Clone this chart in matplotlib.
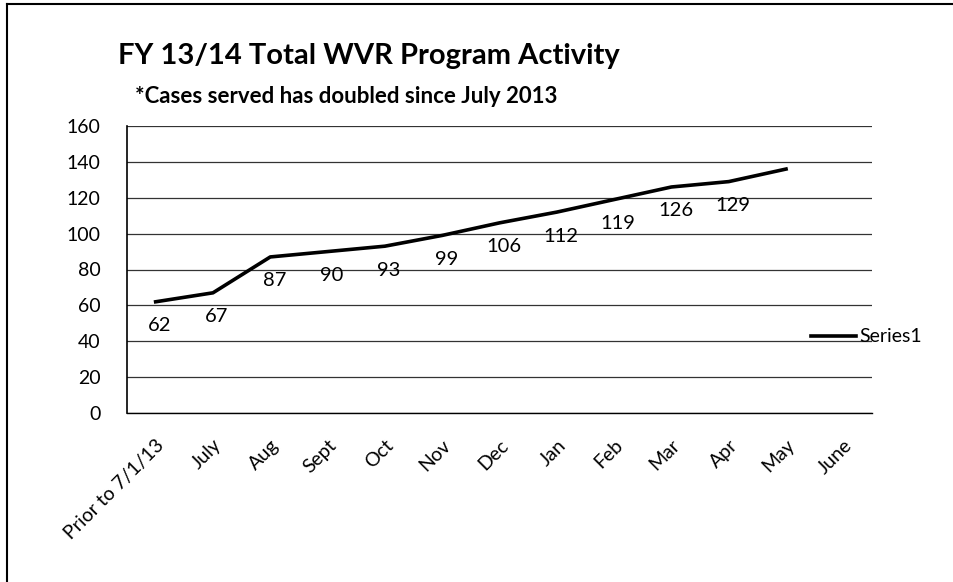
import matplotlib.pyplot as plt
from matplotlib.lines import Line2D

# Data
months = ['Prior to 7/1/13', 'July', 'Aug', 'Sept', 'Oct', 'Nov', 'Dec',
          'Jan', 'Feb', 'Mar', 'Apr', 'May', 'June']
cases = [62, 67, 87, 90, 93, 99, 106, 112, 119, 126, 129, 136]
point_labels = ['62', '67', '87', '90', '93', '99', '106', '112', '119', '126', '129', '']
y_ticks = [0, 20, 40, 60, 80, 100, 120, 140, 160]

plt.rcParams['font.family'] = ['Lato', 'DejaVu Sans']

fig = plt.figure(figsize=(9.54, 5.82), dpi=100)
ax = fig.add_axes([127 / 954, 1 - 413 / 582, 745 / 954, 287 / 582])

x = list(range(len(cases)))
line, = ax.plot(x, cases, color='black', linewidth=2.6, label='Series1')

for xi, yi, lab in zip(x, cases, point_labels):
    if lab:
        ax.annotate(lab, (xi, yi), textcoords='offset pixels', xytext=(4, -24),
                    ha='center', va='center', fontsize=14.5, color='black')

ax.set_xlim(-0.5, len(months) - 0.5)
ax.set_ylim(0, 160)
ax.set_yticks(y_ticks)
ax.set_xticks(range(len(months)))
ax.set_xticklabels(months, rotation=45, ha='right', rotation_mode='anchor', fontsize=14)
ax.tick_params(axis='y', labelsize=14, length=0, pad=19)
ax.tick_params(axis='x', length=0, pad=17)
ax.yaxis.grid(True, color='#333333', linewidth=0.9)
ax.set_axisbelow(True)
for side in ['top', 'right']:
    ax.spines[side].set_visible(False)
ax.spines['left'].set_linewidth(1.2)
ax.spines['bottom'].set_linewidth(1.0)

fig.text(0.124, 0.903, 'FY 13/14 Total WVR Program Activity', fontsize=21,
         fontweight='bold', ha='left', va='center')
fig.text(0.141, 0.834, '*Cases served has doubled since July 2013', fontsize=16,
         fontweight='bold', ha='left', va='center')

fig.legend(handles=[line], labels=['Series1'], loc='center left',
           bbox_to_anchor=(0.832, 1 - 337 / 582), frameon=False, fontsize=14,
           handlelength=2.3, handletextpad=0.2)

# outer chart border (left and top edges visible in the scan)
fig.add_artist(Line2D([7 / 954, 7 / 954], [0, 1 - 4 / 582], color='black', linewidth=1.5))
fig.add_artist(Line2D([7 / 954, 1], [1 - 4 / 582, 1 - 4 / 582], color='black', linewidth=1.5))

fig.savefig('out.png', dpi=100)
